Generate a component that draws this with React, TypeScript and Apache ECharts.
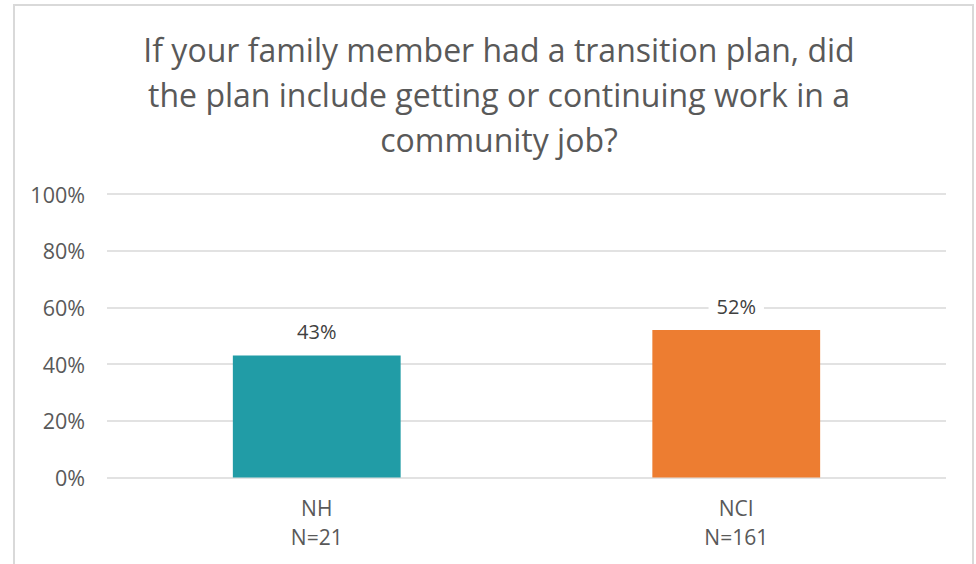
import React, { useEffect, useRef } from "react";
import * as echarts from "echarts";

const categories = ["NH", "NCI"];
const sampleSizes = ["N=21", "N=161"];
const values = [43, 52];
const barColors = ["#219CA6", "#ED7D31"];
const yTicks = [0, 20, 40, 60, 80, 100];
const titleText =
  "If your family member had a transition plan, did\nthe plan include getting or continuing work in a\ncommunity job?";

const FONT = "'Open Sans', sans-serif";

export default function App() {
  const ref = useRef<HTMLDivElement>(null);
  useEffect(() => {
    if (!ref.current) return;
    const chart = echarts.init(ref.current, undefined, { renderer: "svg" });
    chart.setOption({
      animation: false,
      backgroundColor: "#ffffff",
      title: {
        text: titleText,
        left: 494,
        top: 22,
        textAlign: "center",
        textStyle: {
          fontFamily: FONT,
          fontSize: 32,
          fontWeight: "normal",
          color: "#595959",
          lineHeight: 45,
        },
      },
      graphic: [
        {
          type: "rect",
          shape: { x: 14, y: 5, width: 959, height: 620 },
          style: { fill: "none", stroke: "#d9d9d9", lineWidth: 2 },
          silent: true,
        },
      ],
      grid: { left: 107, right: 30, top: 194, bottom: 86.5 },
      xAxis: {
        type: "category",
        data: categories.map((c, i) => `${c}\n${sampleSizes[i]}`),
        axisLine: { show: false },
        axisTick: { show: false },
        axisLabel: {
          fontFamily: FONT,
          fontSize: 21,
          color: "#595959",
          lineHeight: 29,
          margin: 16,
        },
      },
      yAxis: {
        type: "value",
        min: yTicks[0],
        max: yTicks[yTicks.length - 1],
        interval: 20,
        axisLine: { show: false },
        axisTick: { show: false },
        axisLabel: {
          formatter: "{value}%",
          fontFamily: FONT,
          fontSize: 21.5,
          color: "#595959",
          margin: 22,
        },
        splitLine: { lineStyle: { color: "#d9d9d9", width: 1.5 } },
      },
      series: [
        {
          type: "bar",
          barWidth: "40%",
          data: values.map((v, i) => ({ value: v, itemStyle: { color: barColors[i] } })),
          label: {
            show: true,
            position: "top",
            distance: 12,
            formatter: "{c}%",
            fontFamily: FONT,
            fontSize: 20,
            color: "#404040",
            backgroundColor: "#ffffff",
            padding: [2, 8],
          },
        },
      ],
    });
    return () => chart.dispose();
  }, []);
  return (
    <div
      ref={ref}
      style={{ position: "absolute", left: 0, top: 0, width: 976, height: 564 }}
    />
  );
}
